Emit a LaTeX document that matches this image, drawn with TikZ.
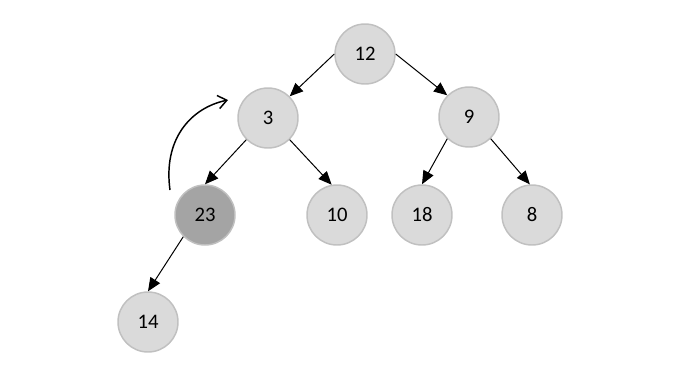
\documentclass[tikz,border=0pt]{standalone}
\usepackage{fontspec}
\setmainfont{Carlito}
\usetikzlibrary{arrows.meta}
\definecolor{lightfill}{HTML}{DADADA}
\definecolor{darkfill}{HTML}{A4A4A4}
\definecolor{ringcol}{HTML}{C0C0C0}
\begin{document}
\begin{tikzpicture}[x=0.75pt,y=-0.75pt,
  heapnode/.style={circle,draw=ringcol,line width=1.1pt,fill=lightfill,minimum size=45pt,inner sep=0pt,font=\fontsize{15.5}{17}\selectfont},
  darknode/.style={heapnode,fill=darkfill},
  edge/.style={-{Triangle[length=10pt,width=8.5pt]},line width=0.75pt,black},
  swaparrow/.style={-{Straight Barb[length=6.5pt,width=10pt]},line width=1.1pt,black}]
\useasboundingbox (0,0) rectangle (700,390);
\node[heapnode] (n12) at (365,54) {12};
\node[heapnode] (n3) at (268,118) {3};
\node[heapnode] (n9) at (469,117) {9};
\node[darknode] (n23) at (205,215) {23};
\node[heapnode] (n10) at (337,215) {10};
\node[heapnode] (n18) at (422,215) {18};
\node[heapnode] (n8) at (532,215) {8};
\node[heapnode] (n14) at (148,322) {14};
\draw[edge] (n12.west) -- (n3.north east);
\draw[edge] (n12.east) -- (n9.north west);
\draw[edge] (n3.south west) -- (n23.north);
\draw[edge] (n3.south east) -- (n10.100);
\draw[edge] (n9.south west) -- (n18.north);
\draw[edge] (n9.south east) -- (n8.94);
\draw[edge] (n23.south west) -- (n14.north);
\coordinate (cs) at (170,190);
\coordinate (ce) at (228,100);
\draw[swaparrow] (cs) .. controls (163,140) and (190,108) .. (ce);
\end{tikzpicture}
\end{document}
